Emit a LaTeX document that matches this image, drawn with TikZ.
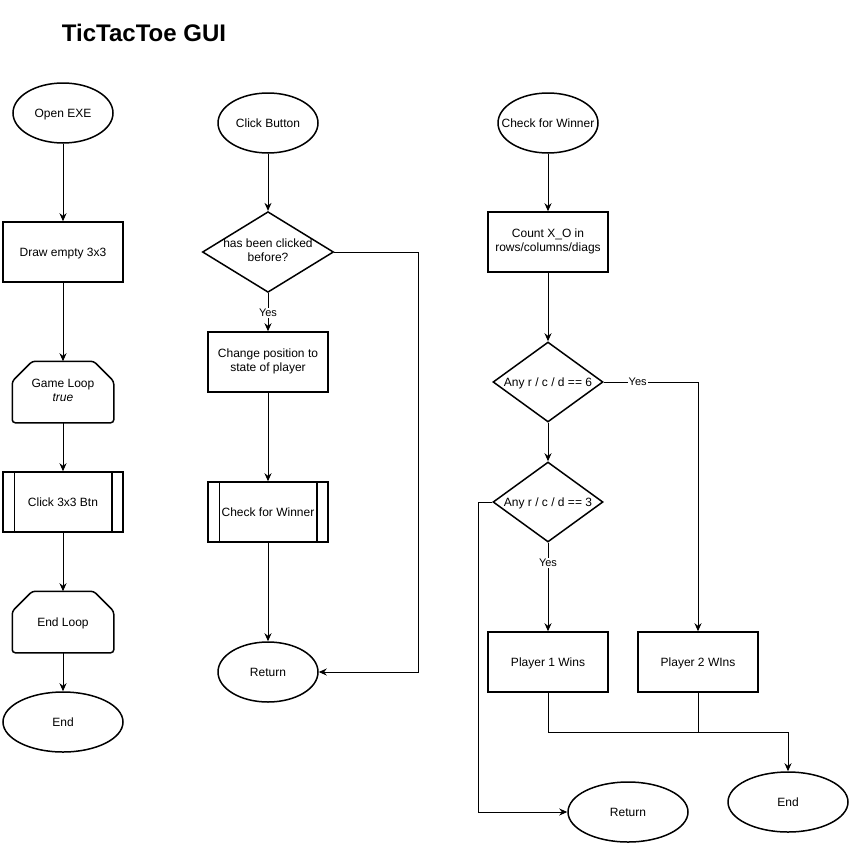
\documentclass[tikz,border=0pt]{standalone}
\usepackage{fontspec}
\setmainfont{Liberation Sans}
\usetikzlibrary{shapes.geometric,arrows.meta}

\newcommand{\vs}{\rule[-3pt]{0pt}{14.6pt}}
\tikzset{
  shp/.style={draw,line width=1.5pt,inner sep=0pt,align=center,font=\fontsize{12}{14}\selectfont,
    execute at begin node=\vs,execute at end node=\vs},
  term/.style={shp,ellipse,minimum width=100pt,minimum height=60pt},
  bigterm/.style={term,minimum width=120pt},
  proc/.style={shp,rectangle,minimum width=120pt,minimum height=60pt},
  decide/.style={shp,diamond,minimum width=110pt,minimum height=80pt,shape aspect=1.375},
  loopbox/.style={shp,draw=none,rectangle,minimum width=100pt,minimum height=60pt},
  conn/.style={line width=1pt,-{Stealth[length=8pt,width=7pt]}},
  plain/.style={line width=1pt},
  yes/.style={fill=white,inner sep=1pt,font=\fontsize{11}{13}\selectfont}
}
\newcommand{\looplimit}[1]{%
  \draw[line width=1.5pt,rounded corners=3pt] ([yshift=-20pt]#1.north west) -- ([xshift=20pt]#1.north west)
    -- ([xshift=-20pt]#1.north east) -- ([yshift=-20pt]#1.north east)
    -- (#1.south east) -- (#1.south west) -- cycle;}
\newcommand{\subbars}[1]{%
  \draw[line width=1.5pt] ([xshift=12pt]#1.north west) -- ([xshift=12pt]#1.south west);
  \draw[line width=1.5pt] ([xshift=-12pt]#1.north east) -- ([xshift=-12pt]#1.south east);}

\begin{document}
\begin{tikzpicture}[x=1pt,y=-1pt]
    \useasboundingbox (0,0) rectangle (851,846);
    \node[font=\bfseries\fontsize{24}{28}\selectfont] (title) at (144,33) {TicTacToe GUI};

    \node[term] (open) at (63,113) {Open EXE};
    \node[proc] (grid) at (63,252) {Draw empty 3x3};
    \node[loopbox] (gloop) at (63,392) {Game Loop\\\textit{true}};
    \node[proc] (click) at (63,502) {Click 3x3 Btn};
    \node[loopbox] (eloop) at (63,622) {End Loop};
    \node[bigterm] (end1) at (63,722) {End};
    \looplimit{gloop}
    \looplimit{eloop}
    \subbars{click}

    \node[term] (btn) at (268,123) {Click Button};
    \node[decide,minimum width=130pt,shape aspect=1.625] (clicked) at (268,252) {has been clicked\\before?};
    \node[proc] (setpos) at (268,362) {Change position to\\state of player};
    \node[proc] (check1) at (268,512) {Check for Winner};
    \node[term] (ret1) at (268,672) {Return};
    \coordinate (back1) at (418,252);
    \subbars{check1}

    \node[term] (check2) at (548,123) {\makebox[0pt]{Check for Winner}};
    \node[proc] (count) at (548,242) {Count X\_O in\\rows/columns/diags};
    \node[decide] (six) at (548,382) {Any r / c / d == 6};
    \node[decide] (three) at (548,502) {Any r / c / d == 3};
    \node[proc] (win1) at (548,662) {Player 1 Wins};
    \node[proc] (win2) at (698,662) {Player 2 WIns};
    \node[bigterm] (ret2) at (628,812) {Return};
    \node[bigterm] (end2) at (788,802) {End};
    \coordinate (back2) at (478,502);
    \coordinate (merge) at (788,732);

    \draw[conn] (open) -- (grid);
    \draw[conn] (grid) -- (gloop);
    \draw[conn] (gloop) -- (click);
    \draw[conn] (click) -- (eloop);
    \draw[conn] (eloop) -- (end1);

    \draw[conn] (btn) -- (clicked);
    \draw[conn] (clicked) -- (setpos) node[yes,pos=0.52] {Yes};
    \draw[conn] (setpos) -- (check1);
    \draw[conn] (check1) -- (ret1);
    \draw[conn] (clicked.east) -- (back1) |- (ret1.east);

    \draw[conn] (check2) -- (count);
    \draw[conn] (count) -- (six);
    \draw[conn] (six) -- (three);
    \draw[conn] (six.east) -| (win2.north) node[yes,pos=0.18] {Yes};
    \draw[conn] (three) -- (win1) node[yes,pos=0.23] {Yes};
    \draw[conn] (three.west) -- (back2) |- (ret2.west);
    \draw[conn] (win1) |- (merge) -- (end2);
    \draw[plain] (win2) -- (win2 |- merge);
\end{tikzpicture}
\end{document}
